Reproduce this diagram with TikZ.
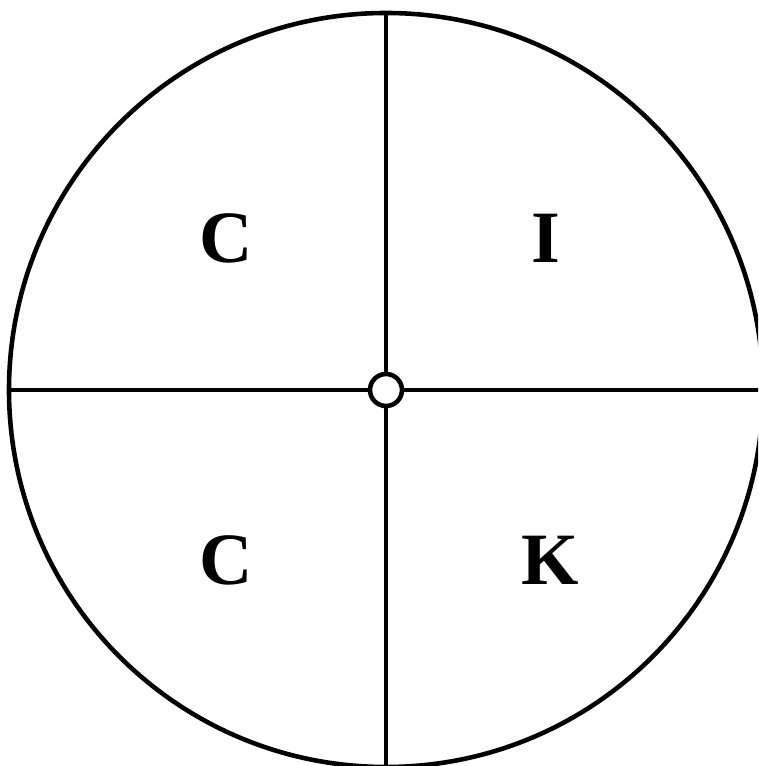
\documentclass[tikz,border=0pt]{standalone}
\usepackage{fontspec}
\setmainfont{Liberation Serif}
\usetikzlibrary{positioning}
\definecolor{trazo}{HTML}{000000}

\begin{document}
\begin{tikzpicture}[line width=1.3pt,
    letra/.style={font=\bfseries\fontsize{21}{24}\selectfont, text=trazo},
    eje/.style={draw=trazo, line width=1.3pt}]
        \useasboundingbox (-3.86,-3.76) rectangle (3.72,3.90);
        \clip (-3.86,-3.76) rectangle (3.72,3.90);
        \draw[eje] (0,0) circle (3.77);
        \coordinate (norte) at (0,3.77);
        \coordinate (sur) at (0,-3.77);
        \coordinate (oeste) at (-3.77,0);
        \coordinate (este) at (3.77,0);
        \node[circle, draw=trazo, fill=white, line width=1.3pt, minimum size=0.32cm, inner sep=0pt] (centro) at (0,0) {};
        \draw[eje] (centro) -- (norte);
        \draw[eje] (centro) -- (sur);
        \draw[eje] (centro) -- (oeste);
        \draw[eje] (centro) -- (este);
        \node[letra] (cuno) at (-1.60,1.52) {C};
        \node[letra] (ide) at (1.60,1.52) {I};
        \node[letra] (cdos) at (-1.60,-1.70) {C};
        \node[letra] (kde) at (1.64,-1.70) {K};
      \end{tikzpicture}
\end{document}
